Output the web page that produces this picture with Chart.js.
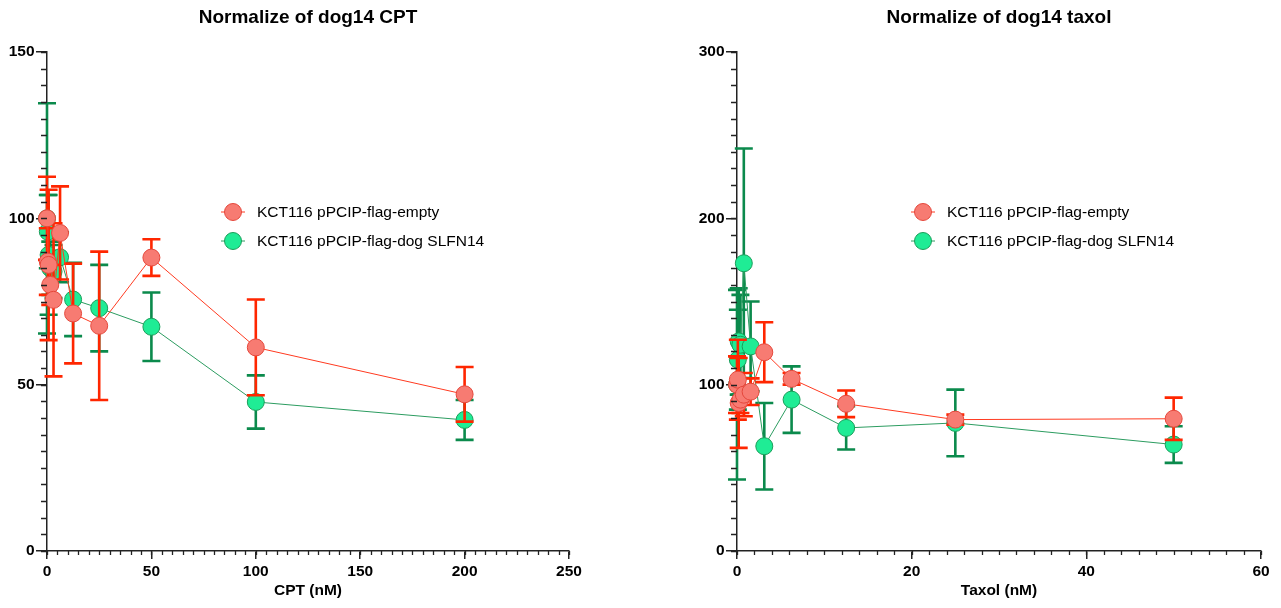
<!DOCTYPE html>
<html lang="en">

<head>
    <meta charset="UTF-8">
    <title>Normalize of dog14</title>
    <style>
        html, body { margin: 0; padding: 0; background: #fff; }
        body { width: 1281px; height: 608px; position: relative; overflow: hidden; }
        .box { position: absolute; top: 0; height: 608px; }
        #box01 { left: 0; width: 600px; }
        #box02 { left: 690px; width: 591px; }
    </style>
</head>

<body>
    <div class="box" id="box01"><canvas id="myChart01"></canvas></div>
    <div class="box" id="box02"><canvas id="myChart02"></canvas></div>
</body>
<!-- chart.js -->
<script src="https://cdn.jsdelivr.net/npm/chart.js"></script>
<script>
    // series names
    var seriesNames = ['KCT116 pPCIP-flag-empty', 'KCT116 pPCIP-flag-dog SLFN14'];

    // CPT panel (mean / SD)
    var cptDose = [0, 0.39, 0.78, 1.56, 3.125, 6.25, 12.5, 25, 50, 100, 200];
    var cptEmpty = [100, 87, 86, 80, 75.5, 95.6, 71.4, 67.7, 88.2, 61.2, 47.1];
    var cptEmptySd = [12.5, 10, 22.6, 6, 23, 14, 15, 22.3, 5.5, 14.4, 8.2];
    var cptDog = [100, 96, 89, 85, 84, 88.3, 75.6, 73, 67.4, 44.8, 39.4];
    var cptDogSd = [34.6, 11, 18, 8, 8, 7.5, 11, 13, 10.3, 8, 6];
    var cptXTicks = [0, 250, 50];   // min, max, step
    var cptYTicks = [0, 150, 50];

    // Taxol panel
    var taxolDose = [0, 0.098, 0.195, 0.39, 0.78, 1.56, 3.125, 6.25, 12.5, 25, 50];
    var taxolEmpty = [100, 103, 89, 91, 94, 95.8, 119.5, 103.5, 88.5, 79, 79.5];
    var taxolEmptySd = [17, 24, 27, 8, 13, 8, 18, 3.5, 8, 3, 12.7];
    var taxolDog = [100, 115, 126, 124, 173, 123, 63, 91, 74, 77, 64];
    var taxolDogSd = [57, 30, 32, 30, 69, 27, 26, 20, 13, 20, 11];
    var taxolXTicks = [0, 60, 20];
    var taxolYTicks = [0, 300, 100];

    var RED = { fill: '#f77b72', edge: '#e5473b', line: '#ff3a20', bar: '#ff2600' };
    var GREEN = { fill: '#1fec95', edge: '#1b9d5a', line: '#2c9c60', bar: '#0b8a4c' };
    var FONT = 'Arial, "Liberation Sans", sans-serif';

    Chart.defaults.font.family = FONT;
    Chart.defaults.color = '#000';

    // error bars, drawn under each dataset's points
    const errorBars = {
        id: 'errorBars',
        beforeDatasetDraw(chart, args) {
            const ds = chart.data.datasets[args.index];
            if (!ds.err) return;
            const ys = chart.scales.y;
            const ctx = chart.ctx;
            ctx.save();
            ctx.strokeStyle = ds.errColor;
            ctx.lineWidth = 2.6;
            args.meta.data.forEach(function (pt, i) {
                const v = ds.data[i].y, e = ds.err[i];
                const top = ys.getPixelForValue(v + e), bot = ys.getPixelForValue(v - e);
                ctx.beginPath();
                ctx.moveTo(pt.x, top); ctx.lineTo(pt.x, bot);
                ctx.moveTo(pt.x - 9, top); ctx.lineTo(pt.x + 9, top);
                ctx.moveTo(pt.x - 9, bot); ctx.lineTo(pt.x + 9, bot);
                ctx.stroke();
            });
            ctx.restore();
        }
    };

    // short minor ticks between the labelled ones
    const minorTicks = {
        id: 'minorTicks',
        afterDraw(chart, args, opts) {
            const ctx = chart.ctx, area = chart.chartArea;
            const xs = chart.scales.x, ys = chart.scales.y;
            ctx.save();
            ctx.strokeStyle = '#222';
            ctx.lineWidth = 1.3;
            ctx.beginPath();
            for (let v = xs.min; v <= xs.max + 1e-9; v += opts.x) {
                const px = Math.round(xs.getPixelForValue(v)) + 0.5;
                ctx.moveTo(px, area.bottom); ctx.lineTo(px, area.bottom + 4);
            }
            for (let v = ys.min; v <= ys.max + 1e-9; v += opts.y) {
                const py = Math.round(ys.getPixelForValue(v)) + 0.5;
                ctx.moveTo(area.left, py); ctx.lineTo(area.left - 6, py);
            }
            ctx.stroke();
            ctx.restore();
        }
    };

    // legend sitting inside the plot
    const innerLegend = {
        id: 'innerLegend',
        afterDraw(chart) {
            const ctx = chart.ctx, area = chart.chartArea;
            ctx.save();
            chart.data.datasets.forEach(function (ds, i) {
                const cx = area.left + 186, cy = area.top + 160 + i * 29;
                ctx.strokeStyle = ds.borderColor;
                ctx.lineWidth = 1;
                ctx.beginPath(); ctx.moveTo(cx - 12, cy); ctx.lineTo(cx + 12, cy); ctx.stroke();
                ctx.beginPath(); ctx.arc(cx, cy, 8.5, 0, Math.PI * 2);
                ctx.fillStyle = ds.pointBackgroundColor; ctx.fill();
                ctx.strokeStyle = ds.pointBorderColor; ctx.stroke();
                ctx.fillStyle = '#000';
                ctx.font = '15.5px ' + FONT;
                ctx.textBaseline = 'middle';
                ctx.fillText(ds.label, cx + 24, cy + 1);
            });
            ctx.restore();
        }
    };

    function makeSet(label, xs, ys, sd, col) {
        return {
            label: label,
            data: xs.map(function (x, i) { return { x: x, y: ys[i] }; }),
            err: sd,
            errColor: col.bar,
            showLine: true,
            borderColor: col.line,
            borderWidth: 1,
            pointRadius: 8.5,
            pointBorderWidth: 1,
            pointBackgroundColor: col.fill,
            pointBorderColor: col.edge,
            clip: false
        };
    }

    function makeAxis(ticks, title, isX) {
        return {
            type: 'linear',
            min: ticks[0],
            max: ticks[1],
            ticks: { stepSize: ticks[2], font: { size: 15.5, weight: 'bold' }, color: '#000', padding: isX ? 3 : 1.5 },
            grid: { drawOnChartArea: false, tickLength: isX ? 8 : 11, color: '#222', lineWidth: 1.5 },
            border: { color: '#222', width: 1.5 },
            title: isX ? { display: true, text: title, font: { size: 15.5, weight: 'bold' }, color: '#000', padding: { top: 4, bottom: 8 } } : { display: false },
            afterFit: function (scale) {
                if (isX) scale.height = 57; else scale.width = 47;
            }
        };
    }

    function drawPanel(id, title, dose, emp, empSd, dog, dogSd, xt, yt, padRight, minorX, minorY, xTitle) {
        return new Chart(document.getElementById(id), {
            type: 'scatter',
            data: {
                datasets: [
                    makeSet(seriesNames[0], dose, emp, empSd, RED),
                    makeSet(seriesNames[1], dose, dog, dogSd, GREEN)
                ]
            },
            options: {
                responsive: true,
                maintainAspectRatio: false,
                animation: false,
                layout: { padding: { left: 0, right: padRight, top: 0, bottom: 0 } },
                scales: {
                    x: makeAxis(xt, xTitle, true),
                    y: makeAxis(yt, '', false)
                },
                plugins: {
                    legend: { display: false },
                    tooltip: { enabled: false },
                    title: {
                        display: true,
                        text: title,
                        fullSize: false,
                        font: { size: 19, weight: 'bold' },
                        color: '#000',
                        padding: { top: 6.5, bottom: 22.7 }
                    },
                    minorTicks: { x: minorX, y: minorY }
                }
            },
            plugins: [errorBars, minorTicks, innerLegend]
        });
    }

    var mychart01 = drawPanel('myChart01', 'Normalize of dog14 CPT', cptDose, cptEmpty, cptEmptySd,
        cptDog, cptDogSd, cptXTicks, cptYTicks, 31, 5, 5, 'CPT (nM)');
    var mychart02 = drawPanel('myChart02', 'Normalize of dog14 taxol', taxolDose, taxolEmpty, taxolEmptySd,
        taxolDog, taxolDogSd, taxolXTicks, taxolYTicks, 20, 2, 10, 'Taxol (nM)');
</script>

</html>
